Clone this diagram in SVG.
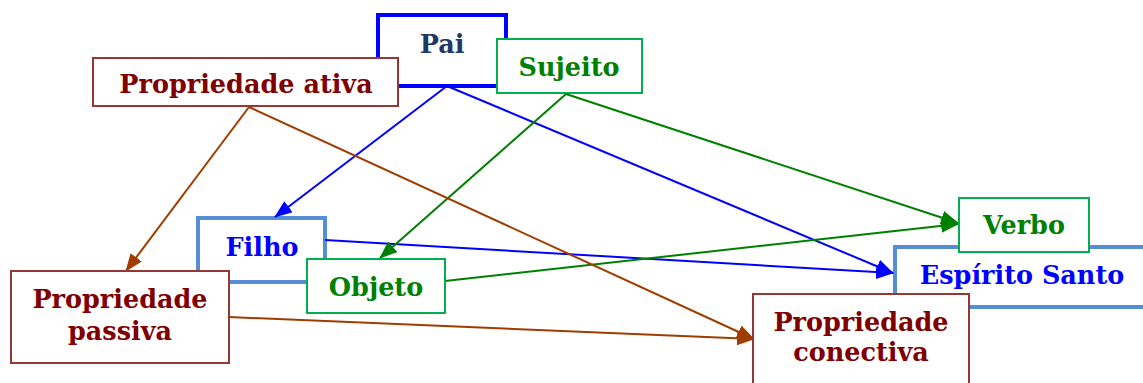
<svg xmlns="http://www.w3.org/2000/svg" width="1143" height="383" viewBox="0 0 1143 383">
<style>
.t{font-family:"DejaVu Serif","Liberation Serif",serif;font-weight:bold;font-size:25.5px;text-anchor:middle}
.bl{fill:#fff;stroke:#0000ff;stroke-width:4}
.lb{fill:#fff;stroke:#558ed5;stroke-width:4}
.gr{fill:#fff;stroke:#00b050;stroke-width:2}
.br{fill:#fff;stroke:#953735;stroke-width:2}
.tb{fill:#0000ff}.tg{fill:#008000}.tr{fill:#800000}.tn{fill:#1f3864}
.c{fill:none;stroke-width:2}
</style>
<defs>
<marker id="ab" markerWidth="18" markerHeight="14" refX="17" refY="7" orient="auto" markerUnits="userSpaceOnUse"><path d="M0,0 L18,7 L0,14 z" fill="#0000ff"/></marker>
<marker id="ag" markerWidth="18" markerHeight="14" refX="17" refY="7" orient="auto" markerUnits="userSpaceOnUse"><path d="M0,0 L18,7 L0,14 z" fill="#008000"/></marker>
<marker id="ar" markerWidth="18" markerHeight="14" refX="17" refY="7" orient="auto" markerUnits="userSpaceOnUse"><path d="M0,0 L18,7 L0,14 z" fill="#a03c00"/></marker>
</defs>
<g id="pai"><rect class="bl" x="378" y="15" width="128" height="71"/><text class="t tn" x="442" y="53">Pai</text></g>
<g id="filho"><rect class="lb" x="198" y="218" width="127" height="64"/><text class="t tb" x="262" y="256">Filho</text></g>
<g id="espirito-santo"><rect class="lb" x="895" y="247" width="260" height="60"/><text class="t tb" x="1022" y="284">Espírito Santo</text></g>
<g id="propriedade-ativa"><rect class="br" x="93" y="58" width="305" height="48"/><text class="t tr" x="246" y="93">Propriedade ativa</text></g>
<g id="sujeito"><rect class="gr" x="497" y="39" width="145" height="54"/><text class="t tg" x="569" y="76">Sujeito</text></g>
<g id="connectors">
<line class="c" x1="447" y1="86" x2="275" y2="217" stroke="#0000ff" marker-end="url(#ab)"/>
<line class="c" x1="447" y1="86" x2="893" y2="273" stroke="#0000ff" marker-end="url(#ab)"/>
<line class="c" x1="325" y1="240" x2="893" y2="273" stroke="#0000ff" marker-end="url(#ab)"/>
<line class="c" x1="566" y1="94" x2="380" y2="258" stroke="#008000" marker-end="url(#ag)"/>
<line class="c" x1="566" y1="94" x2="958" y2="223" stroke="#008000" marker-end="url(#ag)"/>
<line class="c" x1="445" y1="281" x2="958" y2="224" stroke="#008000" marker-end="url(#ag)"/>
<line class="c" x1="249" y1="107" x2="126" y2="271" stroke="#a03c00" marker-end="url(#ar)"/>
<line class="c" x1="249" y1="107" x2="754" y2="339" stroke="#a03c00" marker-end="url(#ar)"/>
<line class="c" x1="229" y1="317" x2="754" y2="339" stroke="#a03c00" marker-end="url(#ar)"/>
</g>
<g id="propriedade-passiva"><rect class="br" x="11" y="271" width="218" height="92"/><text class="t tr" x="120" y="308">Propriedade</text><text class="t tr" x="120" y="340">passiva</text></g>
<g id="objeto"><rect class="gr" x="307" y="259" width="138" height="54"/><text class="t tg" x="376" y="296">Objeto</text></g>
<g id="verbo"><rect class="gr" x="959" y="198" width="130" height="54"/><text class="t tg" x="1024" y="234">Verbo</text></g>
<g id="propriedade-conectiva"><rect class="br" x="753" y="294" width="216" height="100"/><text class="t tr" x="861" y="331">Propriedade</text><text class="t tr" x="861" y="361">conectiva</text></g>
</svg>
